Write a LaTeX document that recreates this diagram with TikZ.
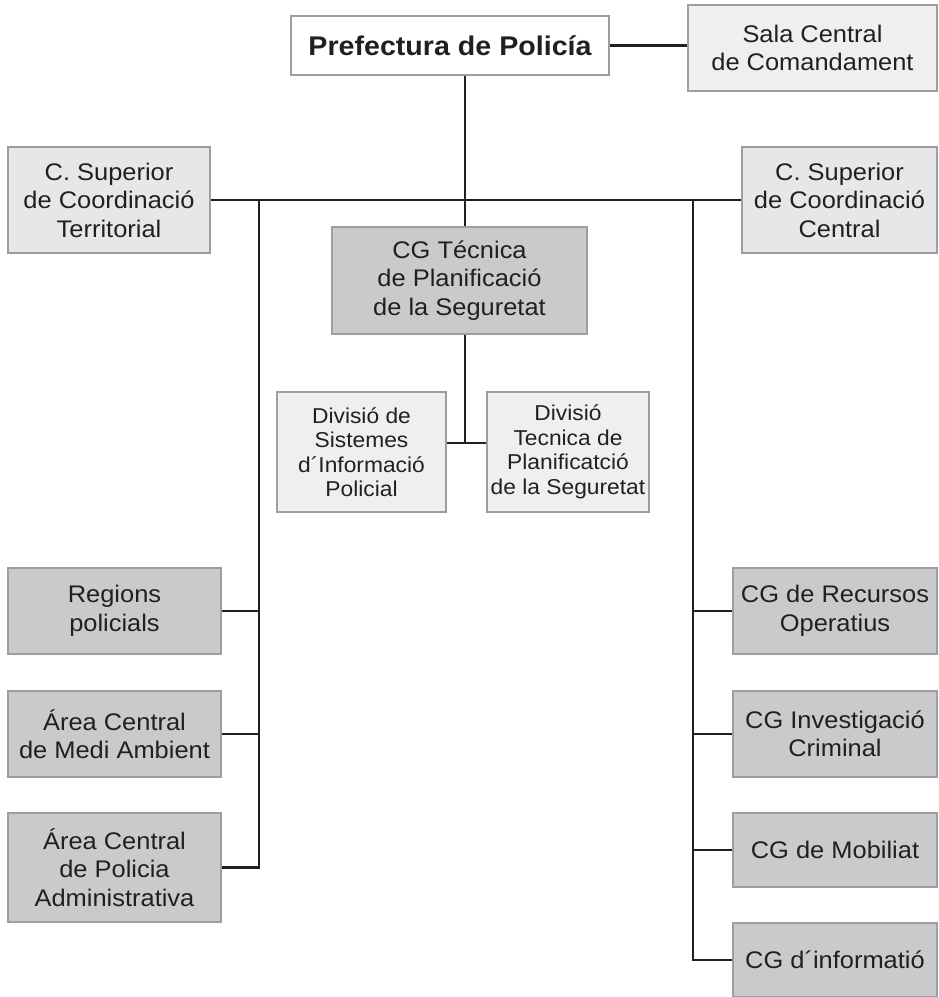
\documentclass[tikz,border=0pt]{standalone}
\usepackage{fontspec}
\setmainfont{Liberation Sans}[FakeStretch=1.06]
\definecolor{boxline}{HTML}{9D9EA0}
\definecolor{lightfill}{HTML}{EFEFF0}
\definecolor{midfill}{HTML}{E6E7E8}
\definecolor{darkfill}{HTML}{C9CACC}
\definecolor{txt}{HTML}{231F20}
\definecolor{linec}{HTML}{231F20}
\tikzset{
  box/.style={draw=boxline, line width=2.5pt, inner sep=0pt, align=center, text=txt,
    font=\fontsize{24}{28.5}\selectfont},
  whitebox/.style={box, fill=white},
  lightbox/.style={box, fill=lightfill},
  midbox/.style={box, fill=midfill},
  darkbox/.style={box, fill=darkfill},
  tight/.style={font=\fontsize{21.5}{24.5}\selectfont},
  conn/.style={draw=linec, line width=2.9pt},
}
\begin{document}
\begin{tikzpicture}[x=1pt,y=-1pt]
\useasboundingbox (0,0) rectangle (939,997);
% boxes
\node[whitebox, minimum width=318pt, minimum height=59pt, font=\fontsize{27}{30}\selectfont\bfseries] (pref) at (450,45.5) {Prefectura de Policía};
\node[lightbox, minimum width=249pt, minimum height=86pt] (sala) at (812.5,48) {Sala Central\\de Comandament};
\node[midbox, minimum width=202pt, minimum height=106pt] (cst) at (109,200) {C. Superior\\de Coordinació\\Territorial};
\node[midbox, minimum width=195pt, minimum height=106pt] (csc) at (839.5,200) {C. Superior\\de Coordinació\\Central};
\node[darkbox, minimum width=255pt, minimum height=107pt] (cgt) at (459.5,280.5) {CG Técnica\\de Planificació\\de la Seguretat};
\node[lightbox, tight, minimum width=169pt, minimum height=120pt] (dsi) at (361.5,452) {Divisió de\\Sistemes\\d´Informació\\Policial};
\node[lightbox, tight, minimum width=162pt, minimum height=120pt] (dtp) at (568,452) {Divisió\\Tecnica de\\Planificatció\\de la Seguretat};
\node[darkbox, minimum width=213pt, minimum height=86pt] (reg) at (114.5,611) {Regions\\policials};
\node[darkbox, minimum width=213pt, minimum height=86pt] (mam) at (114.5,734) {Área Central\\de Medi Ambient};
\node[darkbox, minimum width=213pt, minimum height=109pt] (pad) at (114.5,867.5) {Área Central\\de Policia\\Administrativa};
\node[darkbox, minimum width=204pt, minimum height=86pt] (rec) at (835,611) {CG de Recursos\\Operatius};
\node[darkbox, minimum width=204pt, minimum height=86pt] (inv) at (835,734) {CG Investigació\\Criminal};
\node[darkbox, minimum width=204pt, minimum height=74pt] (mob) at (835,850) {CG de Mobiliat};
\node[darkbox, minimum width=204pt, minimum height=74pt] (inf) at (835,960) {CG d´informatió};
% junction coordinates
\coordinate (tc) at (465,200);
\coordinate (tl) at (259,200);
\coordinate (tr) at (693,200);
\coordinate (dj) at (465,443);
% connectors
\draw[conn] (pref.east) -- (pref.east -| sala.west);
\draw[conn] (cst.east) -- (csc.west);
\draw[conn] (pref.south -| tc) -- (cgt.north -| tc);
\draw[conn] (cgt.south -| dj) -- (dj);
\draw[conn] (dsi.east |- dj) -- (dtp.west |- dj);
\draw[conn] (tl) -- (tl |- pad.east) -- (pad.east);
\draw[conn] (tl |- reg.east) -- (reg.east);
\draw[conn] (tl |- mam.east) -- (mam.east);
\draw[conn] (tr) -- (tr |- inf.west) -- (inf.west);
\draw[conn] (tr |- rec.west) -- (rec.west);
\draw[conn] (tr |- inv.west) -- (inv.west);
\draw[conn] (tr |- mob.west) -- (mob.west);
\end{tikzpicture}
\end{document}
